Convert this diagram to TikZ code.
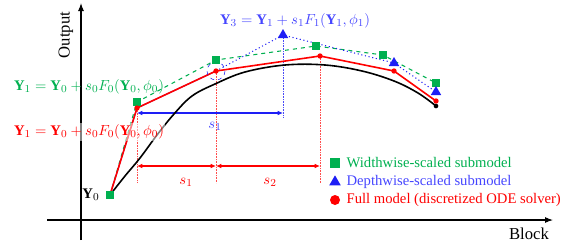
\documentclass[tikz,border=0pt]{standalone}
\usepackage{fontspec}
\setmainfont{Liberation Serif}
\usetikzlibrary{shapes.geometric, arrows.meta, positioning}
\definecolor{wgreen}{RGB}{0,176,80}
\definecolor{dblue}{RGB}{30,30,245}
\definecolor{tblue}{RGB}{70,70,255}
\definecolor{fred}{RGB}{255,0,0}
\tikzset{
  gsq/.style    = {rectangle, fill=wgreen, minimum size=6.5pt, inner sep=0pt},
  btri/.style   = {regular polygon, regular polygon sides=3, fill=dblue,
                   minimum size=9pt, inner sep=0pt},
  rdot/.style   = {circle, fill=fred, minimum size=4pt, inner sep=0pt},
  kdot/.style   = {circle, fill=black, minimum size=3.5pt, inner sep=0pt},
  guide/.style  = {densely dotted, very thin},
  dimarr/.style = {{Latex[length=4pt,width=3.5pt]}-{Latex[length=4pt,width=3.5pt]}, thick},
  axis/.style   = {-{Latex[length=6pt,width=4.5pt]}, thick},
  lgd/.style    = {right, inner sep=1pt},
}
\begin{document}
\begin{tikzpicture}[x=0.75pt, y=-0.75pt, font=\fontsize{11}{13}\selectfont]
  \useasboundingbox (0,0) rectangle (581,247);
  % axes
  \coordinate (xo) at (47,220);  \coordinate (xe) at (553,220);
  \coordinate (yo) at (81,240);  \coordinate (ye) at (81,3);
  \draw[axis] (xo) -- (xe);
  \draw[axis] (yo) -- (ye);
  \node[rotate=90, font=\fontsize{12.5}{14}\selectfont] (out) at (66,35) {Output};
  \node[font=\fontsize{12.5}{14}\selectfont] (blk) at (529,234) {Block};

  % sample points
  \coordinate (y0) at (110,195);
  \foreach \n/\x/\y in {r1/137/108, r2/216/71, r3/320/56, r4/394/71, r5/436/101,
                        g1/137/102, g2/216/60, g3/316/46, g4/383/55, g5/436/83,
                        b3/283/35, b4/394/63, b5/436/92}
    \coordinate (\n) at (\x,\y);

  % guide lines
  \foreach \p in {r1,r2,r3}
    \draw[guide, fred!70] (\p) -- (\p |- 0,183);
  \draw[guide, dblue!80] (b3) -- (283,118);
  \coordinate (s1a) at (137,113);  \coordinate (s1b) at (283,113);
  \coordinate (d1) at (137,166);  \coordinate (d2) at (216,166);  \coordinate (d3) at (320,166);
  \draw[dimarr, dblue] (s1a) -- (s1b);
  \draw[dimarr, fred] (d1) -- (d2);
  \draw[dimarr, fred] (d2) -- (d3);
  \node[text=tblue] (s1bl) at (215,126) {$s_1$};
  \node[text=fred] (s1l) at (186,182) {$s_1$};
  \node[text=fred] (s2l) at (270,182) {$s_2$};

  % exact trajectory
  \draw[very thick, black] plot[smooth, tension=0.6] coordinates {(110,195) (125,176) (140,158)
    (157,135) (174,114) (192,96) (215,84) (245,72) (285,65) (325,65) (362,71) (394,81)
    (418,93) (436,106)};
  \node[kdot] (k5) at (436,106) {};

  % submodels
  \draw[wgreen, thick, dashed] (y0) -- (g1) -- (g2) -- (g3) -- (g4) -- (g5);
  \draw[dblue, thick] (y0) -- (r1) -- (r2);
  \draw[dblue, thick, dotted] (r2) -- (b3) -- (b4) -- (b5);
  \draw[fred, very thick] (y0) -- (r1) -- (r2) -- (r3) -- (r4) -- (r5);
  \draw[dblue, dashed] (r2) circle (9);

  \foreach \p in {g1,g2,g3,g4,g5} \node[gsq] at (\p) {};
  \node[gsq] (y0m) at (y0) {};
  \foreach \p in {b3,b4,b5} \node[btri] at (\p) {};
  \foreach \p in {r1,r2,r3,r4,r5} \node[rdot] at (\p) {};

  % labels
  \node[left=1pt of y0m] (y0l) {$\mathbf{Y}_0$};
  \node[text=wgreen] (gl) at (89,87) {$\mathbf{Y}_1=\mathbf{Y}_0+s_0F_0(\mathbf{Y}_0,\phi_0)$};
  \node[text=fred, fill=white, fill opacity=0.5, text opacity=1, inner sep=1pt] (rl) at (89,132)
    {$\mathbf{Y}_1=\mathbf{Y}_0+s_0F_0(\mathbf{Y}_0,\phi_0)$};
  \node[text=tblue] (bl) at (295,21) {$\mathbf{Y}_3=\mathbf{Y}_1+s_1F_1(\mathbf{Y}_1,\phi_1)$};

  % legend
  \node[gsq, minimum size=7pt] (lg) at (335,163) {};
  \node[btri, minimum size=10pt] (lb) at (335,182) {};
  \node[rdot, minimum size=7.5pt] (lr) at (335,200) {};
  \node[lgd, text=wgreen] at (345,163) {Widthwise-scaled submodel};
  \node[lgd, text=tblue] at (345,182) {Depthwise-scaled submodel};
  \node[lgd, text=fred] at (345,200) {Full model (discretized ODE solver)};
\end{tikzpicture}
\end{document}
